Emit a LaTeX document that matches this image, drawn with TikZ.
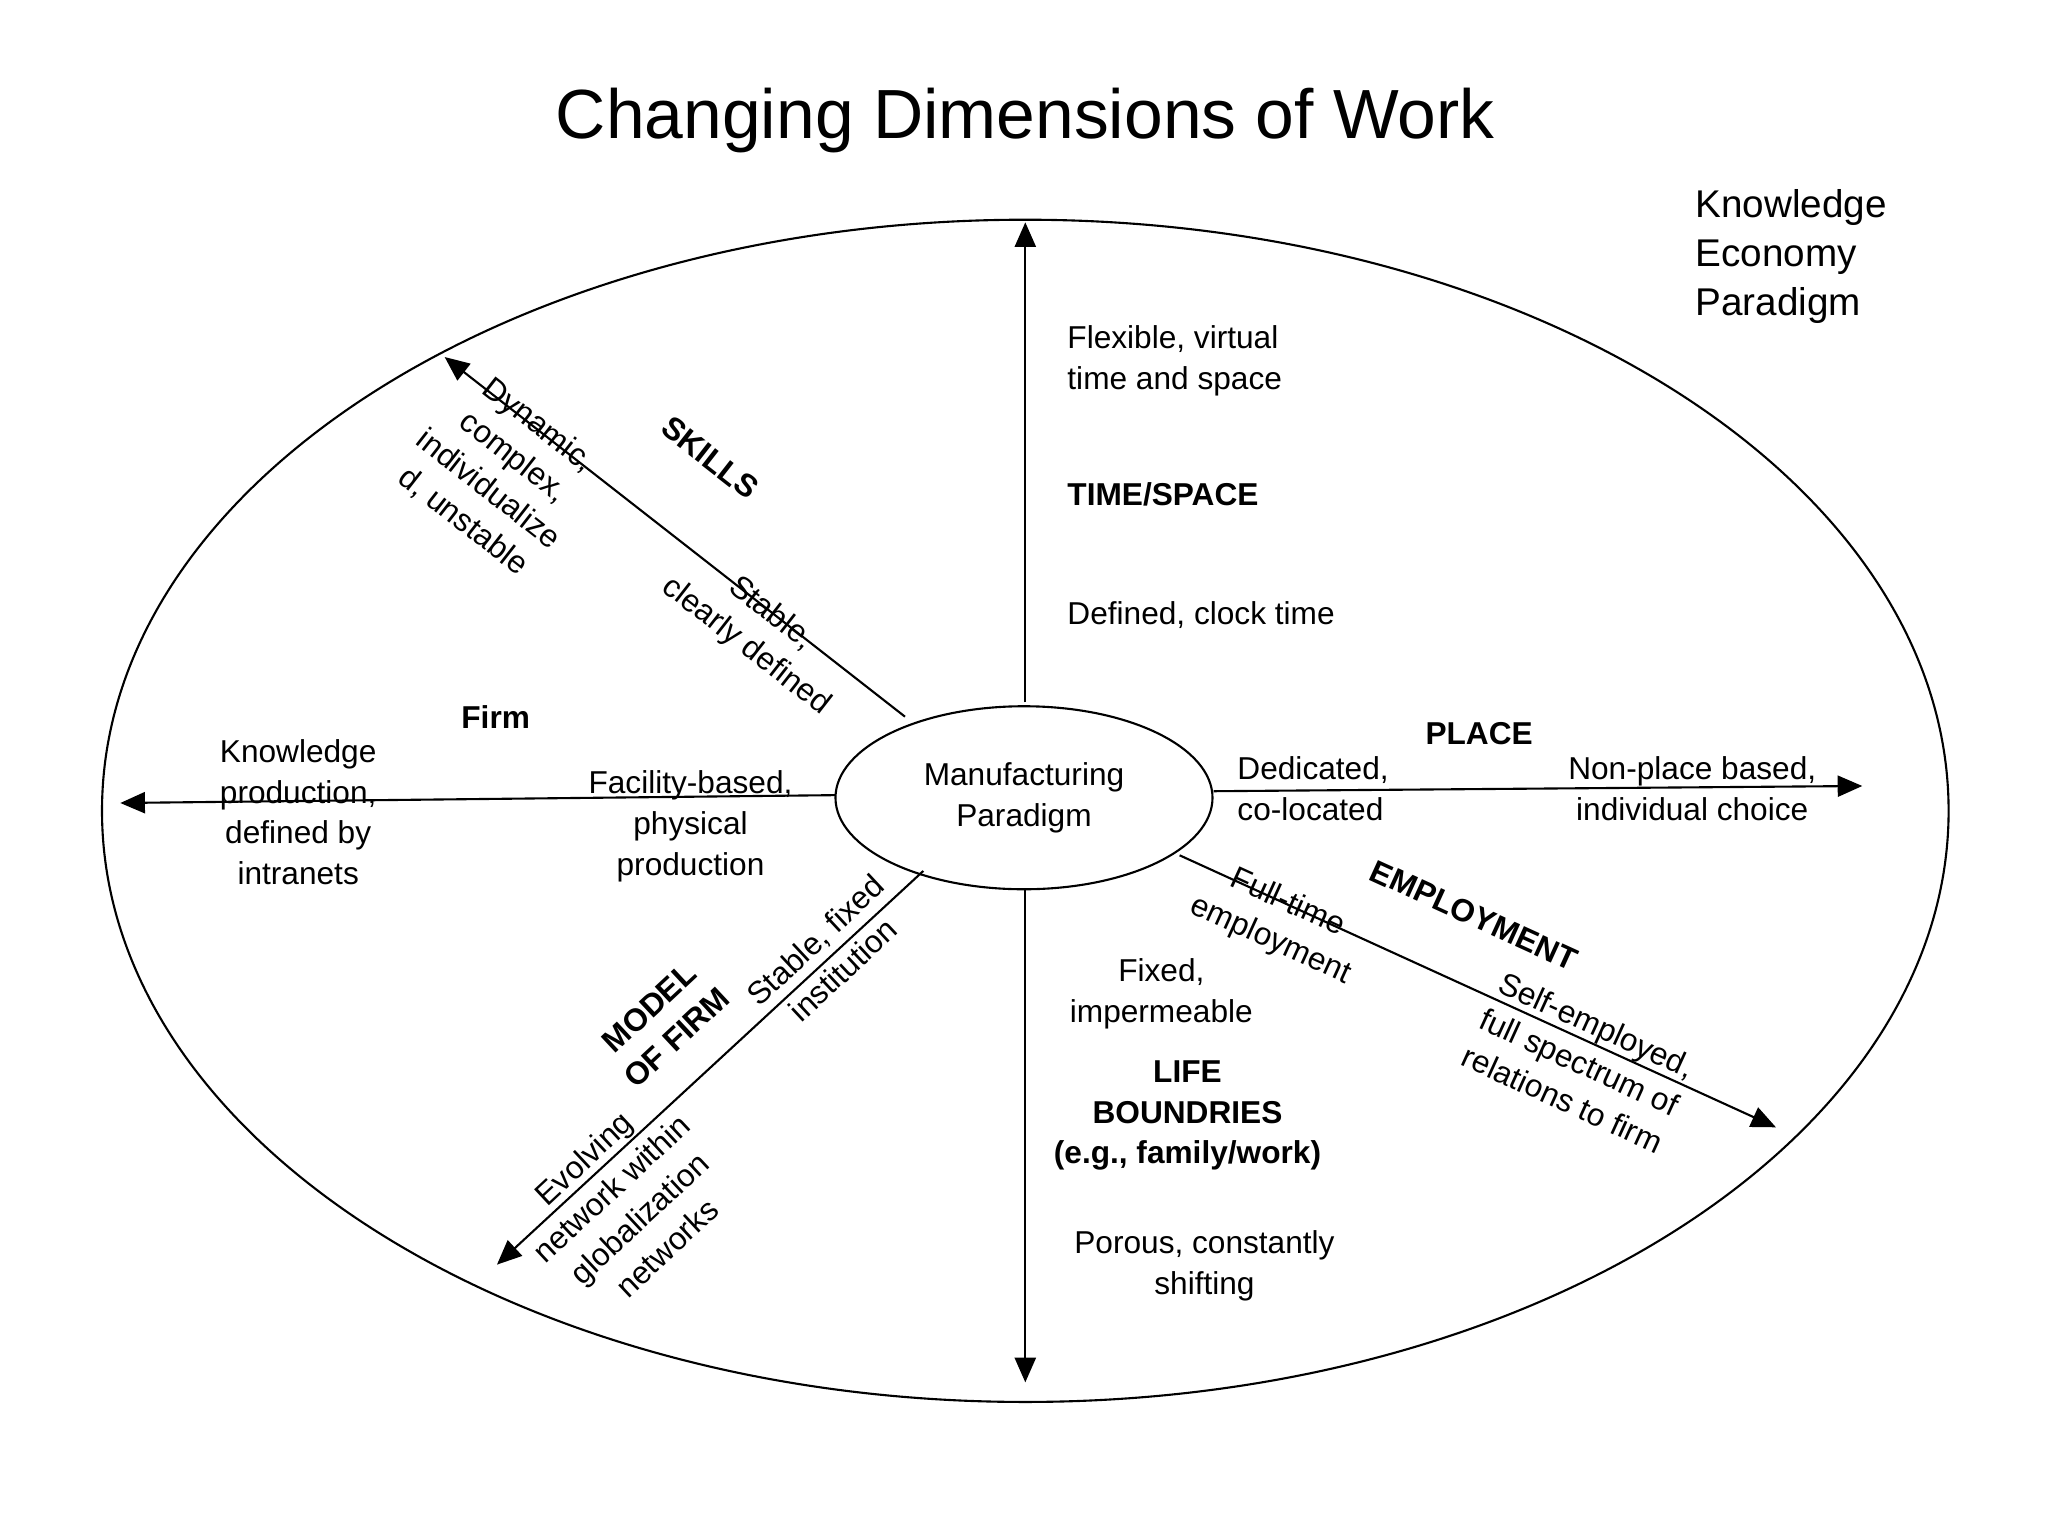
\documentclass[tikz,border=0pt]{standalone}
\usepackage{fontspec}
\setmainfont{Liberation Sans}
\usetikzlibrary{arrows.meta,shapes.geometric}
\tikzset{
  lbl/.style={font=\fontsize{9}{11.6}\selectfont, align=center, inner sep=1pt},
  lbll/.style={font=\fontsize{9}{11.6}\selectfont, align=left, inner sep=1pt, anchor=west},
  bl/.style={font=\fontsize{9}{11.6}\selectfont\bfseries, align=center, inner sep=1pt},
  arr/.style={-{Triangle[length=7pt,width=6pt]}, line width=0.6pt},
  ln/.style={line width=0.6pt}
}
\begin{document}
\begin{tikzpicture}[x=0.013078cm,y=-0.013078cm]
\useasboundingbox (0,0) rectangle (1566,1174);
\node[font=\fontsize{19.8}{22}\selectfont] (title) at (784,92) {Changing Dimensions of Work};
\node[font=\fontsize{11}{14}\selectfont, align=left, anchor=north west, inner sep=0pt] (kep) at (1296,144) {Knowledge\\Economy\\Paradigm};
\draw[ln] (784,620) ellipse [x radius=706, y radius=452];
\node[draw, ellipse, ln, inner sep=0pt, minimum width=3.77cm, minimum height=1.83cm, align=center, font=\fontsize{9}{11.6}\selectfont] (mp) at (783,610) {Manufacturing\\Paradigm};
\coordinate (top) at (784,170);
\coordinate (bot) at (784,1057);
\coordinate (right) at (1424,601);
\coordinate (left) at (92,614);
\coordinate (sk) at (340,273);
\coordinate (mf) at (380,967);
\coordinate (em) at (1358,862);
\coordinate (mpN) at (784,537);
\coordinate (mpS) at (784,680);
\coordinate (mpE) at (928,605);
\coordinate (mpW) at (639,608);
\coordinate (mpNW) at (692,548);
\coordinate (mpSW) at (706,666);
\coordinate (mpSE) at (902,654);
\draw[arr] (mpN) -- (top);
\draw[arr] (mpS) -- (bot);
\draw[arr] (mpE) -- (right);
\draw[arr] (mpW) -- (left);
\draw[arr] (mpNW) -- (sk);
\draw[arr] (mpSW) -- (mf);
\draw[arr] (mpSE) -- (em);
% time/space
\node[lbll] (t1) at (813,276) {Flexible, virtual\\time and space};
\node[bl, anchor=west] (t2) at (813,378) {TIME/SPACE};
\node[lbll] (t3) at (813,470) {Defined, clock time};
% place
\node[bl] (p1) at (1131,561) {PLACE};
\node[lbll] (p2) at (943,603) {Dedicated,\\co-located};
\node[lbl] (p3) at (1294,603) {Non-place based,\\individual choice};
% firm
\node[bl] (f1) at (379,548) {Firm};
\node[lbl] (f2) at (228,621) {Knowledge\\production,\\defined by\\intranets};
\node[lbl] (f3) at (528,632) {Facility-based,\\physical\\production};
% life
\node[lbl] (l1) at (888,760) {Fixed,\\impermeable};
\node[bl] (l2) at (908,853) {LIFE\\BOUNDRIES\\(e.g., family/work)};
\node[lbl] (l3) at (921,968) {Porous, constantly\\shifting};
% skills
\node[bl, rotate=-38] (s1) at (543,350) {SKILLS};
\node[lbl, rotate=-38] (s2) at (580,482) {Stable,\\clearly defined};
\node[lbl, rotate=-38] (s3) at (383,362) {Dynamic,\\complex,\\individualize\\d, unstable};
% employment
\node[bl, rotate=-24.5] (e1) at (1127,700) {EMPLOYMENT};
\node[lbl, rotate=-24.5] (e2) at (978,705) {Full-time\\employment};
\node[lbl, rotate=-24.5] (e3) at (1208,812) {Self-employed,\\full spectrum of\\relations to firm};
% model of firm
\node[bl, rotate=43] (m1) at (507,782) {MODEL\\OF FIRM};
\node[lbl, rotate=43] (m2) at (634,730) {Stable, fixed\\institution};
\node[lbl, rotate=43] (m3) at (478,920) {Evolving\\network within\\globalization\\networks};
\end{tikzpicture}
\end{document}
